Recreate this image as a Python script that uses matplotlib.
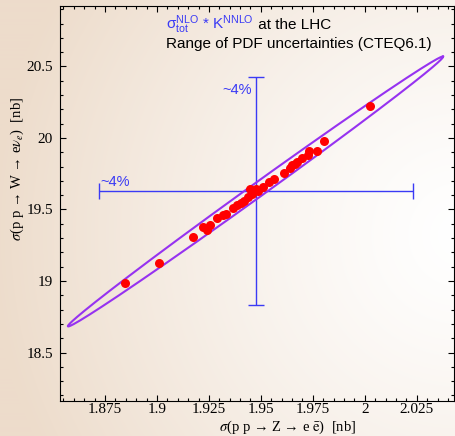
import numpy as np
import matplotlib
matplotlib.use("Agg")
import matplotlib.pyplot as plt
from matplotlib.ticker import MultipleLocator, FuncFormatter
from matplotlib.transforms import offset_copy

plt.rcParams['mathtext.fontset'] = 'stix'

# PDF member predictions: sigma(Z -> ee) and sigma(W -> e nu) in nb
sigma_z = [1.8846, 1.9011, 1.9172, 1.9220, 1.9240, 1.9255, 1.9290, 1.9316,
           1.9332, 1.9367, 1.9386, 1.9403, 1.9419, 1.9438, 1.9448, 1.9456,
           1.9477, 1.9488, 1.9509, 1.9541, 1.9565, 1.9612, 1.9640, 1.9648,
           1.9664, 1.9672, 1.9696, 1.9728, 1.9730, 1.9768, 1.9804, 2.0025]
sigma_w = [18.984, 19.128, 19.306, 19.376, 19.360, 19.390, 19.440, 19.460,
           19.470, 19.510, 19.530, 19.548, 19.560, 19.585, 19.640, 19.610,
           19.645, 19.630, 19.660, 19.690, 19.710, 19.757, 19.790, 19.810,
           19.820, 19.834, 19.858, 19.880, 19.910, 19.910, 19.980, 20.224]

# central value and ~4% uncertainty bars
center = (1.9475, 19.63)
err_z = 0.0755
err_w = 0.795

# error ellipse: center, semi-major and semi-minor axis vectors
ell_center = (1.9474, 19.626)
ell_major = (0.0902, 0.943)
ell_minor = (0.00193, -0.0392)

x_ticks = [1.875, 1.9, 1.925, 1.95, 1.975, 2.0, 2.025]
y_ticks = [18.5, 19.0, 19.5, 20.0, 20.5]

fig = plt.figure(figsize=(4.56, 4.36), dpi=100)

# soft radial background
bg = fig.add_axes([0, 0, 1, 1], zorder=-10)
gx, gy = np.meshgrid(np.arange(456), np.arange(436))
d = np.hypot(gx - 460, gy - 235) / 470.0
t = np.clip(d, 0, 1) ** 1.3
c0 = np.array([255, 255, 255]) / 255.0
c1 = np.array([237, 220, 203]) / 255.0
img = c0[None, None, :] * (1 - t[..., None]) + c1[None, None, :] * t[..., None]
bg.imshow(img, aspect='auto', extent=[0, 1, 0, 1], origin='upper')
bg.axis('off')

ax = fig.add_axes([60 / 456, 1 - 400.7 / 436, 394.5 / 456, 394.7 / 436])
ax.patch.set_alpha(0)

tt = np.linspace(0, 2 * np.pi, 400)
ex = ell_center[0] + ell_major[0] * np.cos(tt) + ell_minor[0] * np.sin(tt)
ey = ell_center[1] + ell_major[1] * np.cos(tt) + ell_minor[1] * np.sin(tt)
ax.plot(ex, ey, color='#9632f0', lw=1.5, zorder=2)

ax.errorbar(center[0], center[1], xerr=err_z, yerr=err_w, color='#3a3af5',
            elinewidth=1.0, capsize=6, capthick=1.0, zorder=1)

ax.plot(sigma_z, sigma_w, 'o', color='red', markersize=6.5,
        markeredgewidth=0, zorder=3)

ax.text(1.9385, 20.336, '~4%', color='#3a3af5', fontsize=10.5,
        family='Liberation Sans', ha='center', va='center')
ax.text(1.8726, 19.69, '~4%', color='#3a3af5', fontsize=10.5,
        family='Liberation Sans', ha='left', va='center')

ax.set_xlim(1.8534, 2.0431)
ax.set_ylim(18.163, 20.923)
ax.xaxis.set_minor_locator(MultipleLocator(0.005))
ax.yaxis.set_minor_locator(MultipleLocator(0.1))
ax.set_xticks(x_ticks)
ax.set_yticks(y_ticks)
fmt = FuncFormatter(lambda v, p: '%g' % round(v, 4))
ax.xaxis.set_major_formatter(fmt)
ax.yaxis.set_major_formatter(fmt)
ax.tick_params(which='both', direction='in', top=True, right=True,
               width=0.8, labelsize=11)
ax.tick_params(axis='x', pad=2)
ax.tick_params(axis='y', pad=5)
ax.tick_params(which='major', length=4)
ax.tick_params(which='minor', length=2.5)
for lab in ax.get_xticklabels() + ax.get_yticklabels():
    lab.set_family('Liberation Serif')
for s in ax.spines.values():
    s.set_linewidth(0.8)

ax.set_xlabel(r'$\sigma$(p p → Z → e $\bar{\mathrm{e}}$)  [nb]',
              family='Liberation Serif', fontsize=10.5)
ax.xaxis.set_label_coords(0.578, -0.045)
ax.set_ylabel(r'$\sigma$(p p → W → e$\nu_e$)  [nb]',
              family='Liberation Serif', fontsize=10.5)
ax.yaxis.set_label_coords(-0.085, 0.587)

t1 = ax.text(0.269, 0.942, r'$\mathregular{\sigma^{NLO}_{tot}}$ * K$\mathregular{^{NNLO}}$',
             transform=ax.transAxes, color='#3a3af5', fontsize=11,
             family='Liberation Sans', ha='left', va='baseline')
fig.canvas.draw()
w = t1.get_window_extent().width
ax.text(0.269, 0.942, ' at the LHC',
        transform=offset_copy(ax.transAxes, fig=fig, x=w, y=0, units='dots'),
        color='black', fontsize=11, family='Liberation Sans',
        ha='left', va='baseline')
ax.text(0.269, 0.8935, 'Range of PDF uncertainties (CTEQ6.1)',
        transform=ax.transAxes, color='black', fontsize=11,
        family='Liberation Sans', ha='left', va='baseline')

fig.savefig('out.png', dpi=100)
